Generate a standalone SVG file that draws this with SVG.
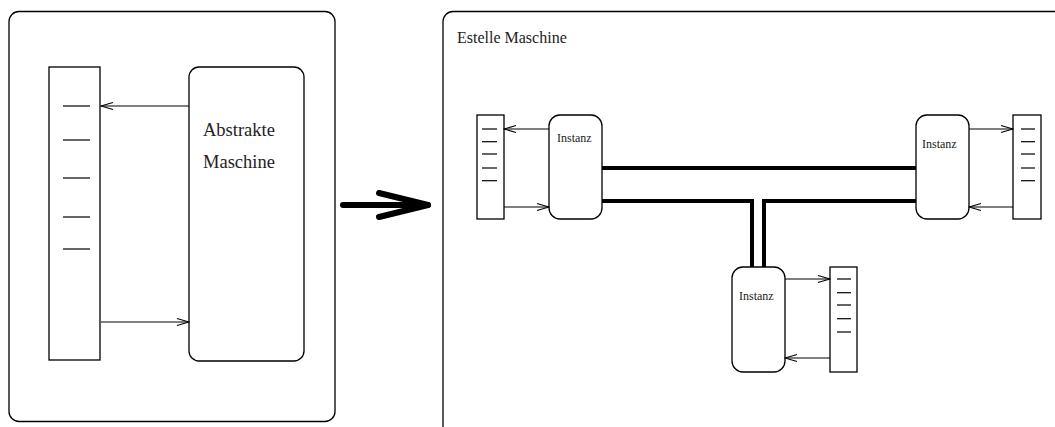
<svg xmlns="http://www.w3.org/2000/svg" width="1055" height="427" viewBox="0 0 1055 427">
  <style>
    .frame { fill: none; stroke: #000; stroke-width: 1.3; }
    .box { fill: #fff; stroke: #000; stroke-width: 1.3; }
    .tick { stroke: #000; stroke-width: 1.2; }
    .link { fill: none; stroke: #000; stroke-width: 1.1; marker-end: url(#open); }
    .bus { fill: none; stroke: #000; stroke-width: 4; }
    .label { font-family: "Liberation Serif", "Times New Roman", serif; fill: #222; }
  </style>
  <defs>
    <marker id="open" viewBox="0 0 14 10" refX="13" refY="5" markerWidth="14" markerHeight="10" markerUnits="userSpaceOnUse" orient="auto">
      <path d="M1,1.5 L13,5 L1,8.5" fill="none" stroke="#000" stroke-width="1.1"/>
    </marker>
  </defs>

  <rect id="left-frame" class="frame" x="9" y="11.5" width="326" height="410" rx="10"/>
  <rect id="right-frame" class="frame" x="443" y="11.5" width="640" height="440" rx="10"/>

  <!-- abstract machine with its queue -->
  <g id="queue-abstract">
    <rect class="box" x="49" y="67" width="51" height="293"/>
    <line class="tick" x1="63" y1="106" x2="90" y2="106"/>
    <line class="tick" x1="63" y1="140" x2="90" y2="140"/>
    <line class="tick" x1="63" y1="178" x2="90" y2="178"/>
    <line class="tick" x1="63" y1="217" x2="90" y2="217"/>
    <line class="tick" x1="63" y1="249" x2="90" y2="249"/>
  </g>
  <g id="abstract-machine">
    <rect class="box" x="189" y="67" width="115" height="294" rx="10"/>
    <text class="label" x="203" y="136" font-size="18.5">Abstrakte</text>
    <text class="label" x="203" y="168" font-size="18.5">Maschine</text>
  </g>

  <!-- transformation arrow -->
  <g id="transform-arrow" fill="none" stroke="#000" stroke-width="6" stroke-linecap="round" stroke-linejoin="round">
    <line x1="343" y1="205" x2="428" y2="205"/>
    <polyline points="379,193 428,205 379,217"/>
  </g>

  <text id="estelle-title" class="label" x="457" y="43" font-size="16">Estelle Maschine</text>

  <!-- instance A (left) -->
  <g id="queue-a">
    <rect class="box" x="477" y="115" width="27" height="104"/>
    <line class="tick" x1="482" y1="129" x2="497" y2="129"/>
    <line class="tick" x1="482" y1="141.7" x2="497" y2="141.7"/>
    <line class="tick" x1="482" y1="154" x2="497" y2="154"/>
    <line class="tick" x1="482" y1="168" x2="497" y2="168"/>
    <line class="tick" x1="482" y1="180.7" x2="497" y2="180.7"/>
  </g>
  <g id="instanz-a">
    <rect class="box" x="549" y="115" width="53" height="104" rx="11"/>
    <text class="label" x="557" y="142" font-size="12">Instanz</text>
  </g>

  <!-- instance B (right) -->
  <g id="instanz-b">
    <rect class="box" x="916" y="115" width="53" height="104" rx="11"/>
    <text class="label" x="922" y="147.5" font-size="12">Instanz</text>
  </g>
  <g id="queue-b">
    <rect class="box" x="1013" y="115" width="28" height="104"/>
    <line class="tick" x1="1021" y1="129" x2="1035" y2="129"/>
    <line class="tick" x1="1021" y1="141.7" x2="1035" y2="141.7"/>
    <line class="tick" x1="1021" y1="154" x2="1035" y2="154"/>
    <line class="tick" x1="1021" y1="168" x2="1035" y2="168"/>
    <line class="tick" x1="1021" y1="180.7" x2="1035" y2="180.7"/>
  </g>

  <!-- instance C (bottom) -->
  <g id="instanz-c">
    <rect class="box" x="732" y="267" width="53" height="105" rx="11"/>
    <text class="label" x="739" y="300" font-size="12">Instanz</text>
  </g>
  <g id="queue-c">
    <rect class="box" x="830" y="267" width="27" height="105"/>
    <line class="tick" x1="837" y1="279" x2="851" y2="279"/>
    <line class="tick" x1="837" y1="292.7" x2="851" y2="292.7"/>
    <line class="tick" x1="837" y1="305" x2="851" y2="305"/>
    <line class="tick" x1="837" y1="318.7" x2="851" y2="318.7"/>
    <line class="tick" x1="837" y1="332" x2="851" y2="332"/>
  </g>

  <g id="connectors">
    <!-- queue links -->
    <line class="link" x1="189" y1="106" x2="101" y2="106"/>
    <line class="link" x1="101" y1="322" x2="189" y2="322"/>
    <line class="link" x1="549" y1="129" x2="504" y2="129"/>
    <line class="link" x1="504" y1="207" x2="549" y2="207"/>
    <line class="link" x1="969" y1="129" x2="1013" y2="129"/>
    <line class="link" x1="1013" y1="207" x2="969" y2="207"/>
    <line class="link" x1="785" y1="279" x2="830" y2="279"/>
    <line class="link" x1="830" y1="358" x2="785" y2="358"/>
    <!-- channels between instances -->
    <line class="bus" x1="602" y1="168" x2="916" y2="168"/>
    <polyline class="bus" points="602,201 752,201 752,267"/>
    <polyline class="bus" points="916,201 764,201 764,267"/>
  </g>
</svg>
